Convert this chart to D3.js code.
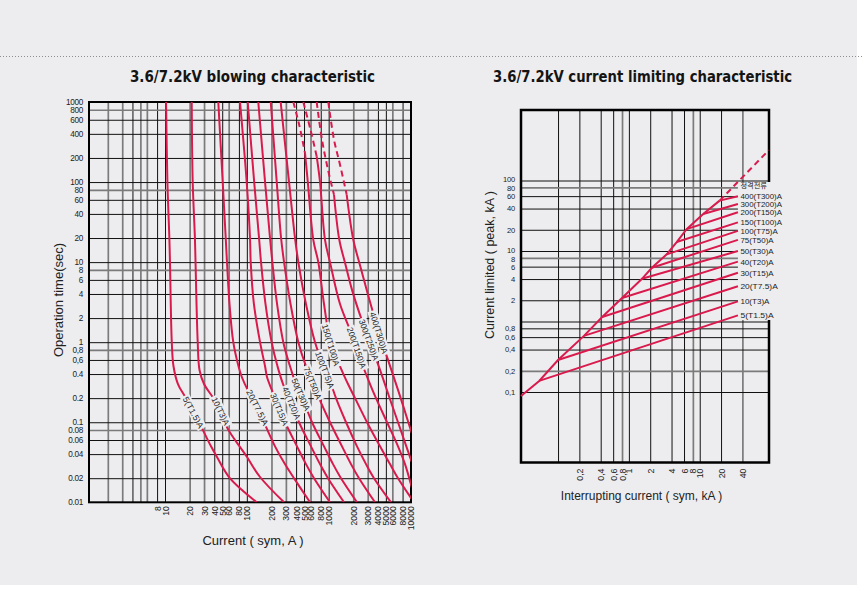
<!DOCTYPE html>
<html>
<head>
<meta charset="utf-8">
<script src="https://cdn.jsdelivr.net/npm/d3@7/dist/d3.min.js"></script>
<style>
html,body{margin:0;padding:0;background:#ffffff;}
svg{display:block;}
</style>
</head>
<body>
<svg id="chart" width="864" height="593"></svg>
<script>
// ================= DATA : blowing characteristic (current A, time s) =================
const blowNames = ["5(T1.5)A","10(T3)A","20(T7.5)A","30(T15)A","40(T20)A","50(T30)A",
                   "75(T50)A","100(T75)A","150(T100)A","200(T150)A","300(T250)A","400(T300)A"];
const blow5   = [[10.3,1000],[10.7,100],[11.3,20],[11.5,10],[12.1,1],[12.7,0.5],[14.4,0.3],[18,0.2],[22.5,0.13],[26,0.1],[36.5,0.05],[43,0.037],[62,0.02],[132,0.01]];
const blow10  = [[21.2,1000],[21.8,100],[23.2,20],[23.6,10],[25.1,1],[26.4,0.45],[30,0.3],[39,0.2],[49.7,0.13],[57,0.087],[100,0.037],[145,0.0207],[285,0.01]];
const blow20  = [[44.8,1000],[50.7,100],[55.2,20],[57.2,10],[61.4,3],[68.3,1],[79.1,0.5],[86.6,0.37],[103,0.25],[135,0.153],[162,0.1],[221,0.05],[292,0.03],[377,0.02],[592,0.01]];
const blow30  = [[82.5,1000],[99.6,100],[109.3,20],[111.5,10],[122,3],[145,1],[167,0.5],[176,0.37],[203,0.25],[251,0.145],[293,0.1],[410,0.05],[528,0.03],[662,0.02],[1038,0.01]];
const blow40  = [[102.5,1000],[123,100],[141,20],[149,10],[169,3],[201,1],[237,0.5],[277,0.3],[353,0.174],[434,0.1],[608,0.05],[784,0.03],[981,0.02],[1540,0.01]];
const blow50  = [[138,1000],[167,100],[192,20],[205,10],[234,3],[279,1],[337,0.5],[399,0.3],[459,0.2226],[626,0.1],[877,0.05],[1130,0.03],[1415,0.02],[2220,0.01]];
const blow75  = [[196,1000],[232,100],[262,20],[285,10],[342,3],[426,1],[528,0.5],[640,0.31],[762,0.2],[1038,0.1],[1455,0.05],[1875,0.03],[2349,0.02],[3684,0.01]];
const blow100 = [[259,1000],[328,100],[388,20],[426,10],[528,3],[681,1],[902,0.451],[1068,0.3],[1229,0.2],[1629,0.1],[2220,0.05],[2860,0.03],[3581,0.02],[5777,0.01]];
const blow150 = [[370,1000],[440,500],[514,230],[556,100],[649,19],[747,10],[877,3],[1068,0.925],[1376,0.5],[1723,0.3],[2099,0.2],[2941,0.1],[4241,0.05],[5618,0.03],[7037,0.02],[11036,0.01]];
const blow200 = [[490,1000],[600,450],[714,209],[784,100],[902,19],[1038,10],[1376,3],[2099,1],[2628,0.5],[3201,0.3],[3788,0.2],[5163,0.1],[7037,0.05],[8568,0.03],[10430,0.015]];
const blow300 = [[714,1000],[829,338],[981,142.6],[1162,69.4],[1349,19],[1584,9.8],[1929,4.5],[2415,2.19],[3112,1.07],[4241,0.451],[5943,0.164],[7811,0.0734],[10346,0.0319]];
const blow400 = [[990,1000],[1162,338],[1376,164.6],[1662,69.4],[2000,19],[2368,9.8],[3025,3.9],[4122,1.31],[5163,0.655],[7037,0.254],[10346,0.0734]];
const blowCurves = [blow5,blow10,blow20,blow30,blow40,blow50,blow75,blow100,blow150,blow200,blow300,blow400];
const blowDashAbove = [0,0,0,0,0,0,0,0,230,209,69.4,69.4];          // time (s) above which curve is dashed
const blowLabelT = [0.133,0.138,0.153,0.145,0.174,0.2226,0.31,0.451,0.925,0.849,1.07,1.31];

const blowGridX = [2,3,4,5,6,8,10,20,30,40,50,60,80,100,200,300,400,500,600,800,1000,2000,3000,4000,5000,6000,8000];
const blowGrayX = [2,3,5,6,20,30,60,200,300,600,2000,3000,6000];
const blowGridY = [0.02,0.04,0.06,0.08,0.1,0.2,0.4,0.6,0.8,1,2,4,6,8,10,20,40,60,80,100,200,400,600,800];
const blowGrayY = [800,80,8,0.8,0.08];
const blowTickX = [8,10,20,30,40,50,60,80,100,200,300,400,500,600,800,1000,2000,3000,4000,5000,6000,8000,10000];
const blowTickXLabels = ["8","10","20","30","40","50","60","80","100","200","300","400","500","600","800","1000","2000","3000","4000","5000","6000","8000","10000"];
const blowTickY = [1000,800,600,400,200,100,80,60,40,20,10,8,6,4,2,1,0.8,0.6,0.4,0.2,0.1,0.08,0.06,0.04,0.02,0.01];
const blowTickYLabels = ["1000","800","600","400","200","100","80","60","40","20","10","8","6","4","2","1","0,8","0,6","0.4","0.2","0.1","0.08","0.06","0.04","0.02","0.01"];

// ================= DATA : current limiting characteristic (kA sym, kA peak) =================
const limNames = ["5(T1.5)A","10(T3)A","20(T7.5)A","30(T15)A","40(T20)A","50(T30)A",
                  "75(T50)A","100(T75)A","150(T100)A","200(T150)A","300(T200)A","400(T300)A"];
const limEnvelope = [[0.03,0.088],[0.0542,0.1436],[0.1,0.284],[0.232,0.625],[0.42,1.156],[0.8,2.16],[1.53,4.03],[2.11,5.79],[3.42,8.97],[4.73,13.4],[6.53,20.4],[11.2,33.4],[19.1,51.8]];
const limEnvelopeDashed = [[19.1,51.8],[94,268]];
const limStartI    = [0.0542,0.1,0.232,0.42,0.8,1.53,2.11,3.42,4.73,6.53,11.2,19.1];
const limStartPeak = [0.1436,0.284,0.625,1.156,2.16,4.03,5.79,8.97,13.4,20.4,33.4,51.8];
const limEndI = 34.6;
const limEndPeak   = [1.22,1.93,3.16,4.91,7.06,10,14.4,19.3,25.5,35.4,46.5,59.8];
const limRatedLabel = "정격전류";
const limRatedLabelPeak = 85;

const limGridX = [0.1,0.2,0.4,0.6,0.8,1,2,4,6,8,10,20,40];
const limGrayX = [0.8,8,40];
const limGridY = [0.1,0.2,0.4,0.6,0.8,1,2,4,6,8,10,20,40,60,80,100];
const limGrayY = [80,8,0.2];
const limTickX = [0.2,0.4,0.6,0.8,1,2,4,6,8,10,20,40];
const limTickXLabels = ["0,2","0,4","0,6","0,8","1","2","4","6","8","10","20","40"];
const limTickY = [100,80,60,40,20,10,8,6,4,2,0.8,0.6,0.4,0.2,0.1];
const limTickYLabels = ["100","80","60","40","20","10","8","6","4","2","0,8","0,6","0,4","0,2","0,1"];

// ================= DRAWING =================
const svg = d3.select("#chart");
const BG = "#ededef", RED = "#d81a4d", INK = "#111", GRAY = "#7b7b7b";
const SANS = "'Liberation Sans', Arial, Helvetica, sans-serif";

svg.append("rect").attr("x",0).attr("y",0).attr("width",857).attr("height",585).attr("fill",BG);
svg.append("line").attr("x1",0).attr("x2",864).attr("y1",56.5).attr("y2",56.5)
   .attr("stroke","#8f8f8f").attr("stroke-width",1).attr("stroke-dasharray","1 2");

function title(txt, cx, len){
  svg.append("text").attr("x",cx).attr("y",82).attr("text-anchor","middle")
    .attr("font-family","'DejaVu Sans Condensed','DejaVu Sans',sans-serif")
    .attr("font-weight","bold").attr("font-size",15).attr("fill","#141414")
    .attr("textLength",len).attr("lengthAdjust","spacingAndGlyphs").text(txt);
}
title("3.6/7.2kV blowing characteristic", 252.5, 245);
title("3.6/7.2kV current limiting characteristic", 642.5, 299);

function styleGrid(g, grays){
  g.select(".domain").remove();
  g.selectAll(".tick line")
    .attr("stroke", d => grays.includes(d) ? GRAY : INK)
    .attr("stroke-width", d => grays.includes(d) ? 1.7 : 1);
}
function logInterp(pts, t){
  for(let i=0;i<pts.length-1;i++){
    const a=pts[i], b=pts[i+1];
    if(t<=a[1] && t>=b[1]){
      const f=(Math.log(t)-Math.log(a[1]))/(Math.log(b[1])-Math.log(a[1]));
      return Math.exp(Math.log(a[0])+f*(Math.log(b[0])-Math.log(a[0])));
    }
  }
  return pts[pts.length-1][0];
}

// ---------- LEFT CHART ----------
const L = {x0:89, x1:411, y0:102, y1:502.3};
const xL = d3.scaleLog().domain([1.178,10000]).range([89,410.5]);
const yL = d3.scaleLog().domain([0.01,1000]).range([L.y1,L.y0]);
const gL = svg.append("g");

gL.append("g").attr("transform",`translate(0,${L.y1})`)
  .call(d3.axisBottom(xL).tickValues(blowGridX).tickSize(-(L.y1-L.y0)).tickFormat(""))
  .call(g=>styleGrid(g, blowGrayX));
gL.append("g").attr("transform",`translate(${L.x0},0)`)
  .call(d3.axisLeft(yL).tickValues(blowGridY).tickSize(-(L.x1-L.x0)).tickFormat(""))
  .call(g=>styleGrid(g, blowGrayY));

// tick labels
gL.append("g").attr("transform",`translate(${L.x0},0)`)
  .call(d3.axisLeft(yL).tickValues(blowTickY).tickSize(0).tickPadding(6).tickFormat((d,i)=>blowTickYLabels[i]))
  .call(g=>{ g.select(".domain").remove();
    g.selectAll("text").attr("font-family",SANS).attr("font-size",8.2).attr("letter-spacing",-0.3).attr("fill","#222"); });
gL.append("g").attr("transform",`translate(0,${L.y1})`)
  .call(d3.axisBottom(xL).tickValues(blowTickX).tickSize(0).tickFormat((d,i)=>blowTickXLabels[i]))
  .call(g=>{ g.select(".domain").remove();
    g.selectAll("text").attr("font-family",SANS).attr("font-size",8.6).attr("fill","#222")
      .attr("transform","rotate(-90)").attr("text-anchor","end").attr("x",-4).attr("y",0).attr("dy","0.35em"); });

gL.append("rect").attr("x",L.x0).attr("y",L.y0).attr("width",L.x1-L.x0).attr("height",L.y1-L.y0)
  .attr("fill","none").attr("stroke","#000").attr("stroke-width",2);

svg.append("clipPath").attr("id","clipL").append("rect")
  .attr("x",L.x0).attr("y",L.y0).attr("width",L.x1-L.x0).attr("height",L.y1-L.y0);
const curvesL = gL.append("g").attr("clip-path","url(#clipL)");
const lineL = d3.line().x(d=>xL(d[0])).y(d=>yL(d[1])).curve(d3.curveCatmullRom.alpha(0.5));

blowCurves.forEach((pts,i)=>{
  const th = blowDashAbove[i];
  let solid = pts, dashed = null;
  if(th){
    const k = pts.findIndex(p=>p[1]<=th);
    dashed = pts.slice(0,k+1); solid = pts.slice(k);
  }
  curvesL.append("path").attr("d",lineL(solid)).attr("fill","none").attr("stroke",RED).attr("stroke-width",2);
  if(dashed) curvesL.append("path").attr("d",lineL(dashed)).attr("fill","none").attr("stroke",RED)
      .attr("stroke-width",2).attr("stroke-dasharray","6 4");
});

// curve labels
blowCurves.forEach((pts,i)=>{
  const t = blowLabelT[i];
  const px = xL(logInterp(pts,t)), py = yL(t);
  const x1 = xL(logInterp(pts,t*1.35)), y1 = yL(t*1.35);
  const x2 = xL(logInterp(pts,t/1.35)), y2 = yL(t/1.35);
  const ang = Math.atan2(y2-y1, x2-x1)*180/Math.PI;
  const len = blowNames[i].length*4.3;
  const g = gL.append("g").attr("transform",`translate(${px},${py}) rotate(${ang})`);
  g.append("rect").attr("x",-len/2-1.5).attr("y",-5).attr("width",len+3).attr("height",10).attr("fill",BG);
  g.append("text").attr("x",0).attr("y",3.2).attr("text-anchor","middle").attr("font-family",SANS)
    .attr("font-size",8.5).attr("fill","#222").attr("textLength",len).attr("lengthAdjust","spacingAndGlyphs")
    .text(blowNames[i]);
});

svg.append("text").attr("transform","translate(63,300) rotate(-90)").attr("text-anchor","middle")
  .attr("font-family",SANS).attr("font-size",13).attr("fill","#222").text("Operation time(sec)");
svg.append("text").attr("x",253).attr("y",545).attr("text-anchor","middle")
  .attr("font-family",SANS).attr("font-size",13).attr("fill","#222").text("Current ( sym, A )");

// ---------- RIGHT CHART ----------
const R = {x0:521, x1:769, y0:110, y1:462.5};
const xR = d3.scaleLog().domain([0.03,95]).range([R.x0,R.x1]);
const yR = d3.scaleLog().domain([0.01,1000]).range([R.y1,R.y0]);
const gR = svg.append("g");

gR.append("g").attr("transform",`translate(0,${R.y1})`)
  .call(d3.axisBottom(xR).tickValues(limGridX).tickSize(-(R.y1-R.y0)).tickFormat(""))
  .call(g=>styleGrid(g, limGrayX));
gR.append("g").attr("transform",`translate(${R.x0},0)`)
  .call(d3.axisLeft(yR).tickValues(limGridY).tickSize(-(R.x1-R.x0)).tickFormat(""))
  .call(g=>styleGrid(g, limGrayY));

// small nudges keep the tightly packed 100/80 and 10/8 labels apart
const nudge = {100:-1.3, 80:1.2, 10:-1.3, 8:1.2};
gR.append("g").attr("transform",`translate(${R.x0},0)`)
  .call(d3.axisLeft(yR).tickValues(limTickY).tickSize(0).tickPadding(6).tickFormat((d,i)=>limTickYLabels[i]))
  .call(g=>{ g.select(".domain").remove();
    g.selectAll("text").attr("font-family",SANS).attr("font-size",7.6).attr("letter-spacing",-0.2).attr("fill","#222")
      .attr("y", d => nudge[d] || 0); });
gR.append("g").attr("transform",`translate(0,${R.y1})`)
  .call(d3.axisBottom(xR).tickValues(limTickX).tickSize(0).tickFormat((d,i)=>limTickXLabels[i]))
  .call(g=>{ g.select(".domain").remove();
    g.selectAll("text").attr("font-family",SANS).attr("font-size",8.8).attr("fill","#222")
      .attr("transform","rotate(-90)").attr("text-anchor","end").attr("x",-6).attr("y",0).attr("dy","0.35em"); });

gR.append("rect").attr("x",R.x0).attr("y",R.y0).attr("width",R.x1-R.x0).attr("height",R.y1-R.y0)
  .attr("fill","none").attr("stroke","#000").attr("stroke-width",2.5);

// label area box (covers grid where labels sit)
const boxX = xR(limEndI);
gR.append("rect").attr("x",boxX).attr("y",yR(100)+1.5).attr("width",60).attr("height",yR(1)-yR(100)-3).attr("fill",BG);

const lineR = d3.line().x(d=>xR(d[0])).y(d=>yR(d[1]));
gR.append("path").attr("d",lineR(limEnvelope)).attr("fill","none").attr("stroke",RED).attr("stroke-width",2);
gR.append("path").attr("d",lineR(limEnvelopeDashed)).attr("fill","none").attr("stroke",RED)
  .attr("stroke-width",2).attr("stroke-dasharray","6 4");
limNames.forEach((n,i)=>{
  gR.append("path").attr("d",lineR([[limStartI[i],limStartPeak[i]],[limEndI,limEndPeak[i]]]))
    .attr("fill","none").attr("stroke",RED).attr("stroke-width",2);
  gR.append("text").attr("x",boxX+2.5).attr("y",yR(limEndPeak[i])+3).attr("font-family",SANS)
    .attr("font-size",8).attr("fill","#222").attr("textLength",n.length*4.15).attr("lengthAdjust","spacingAndGlyphs").text(n);
});
gR.append("text").attr("x",boxX+2.5).attr("y",yR(limRatedLabelPeak)+3)
  .attr("font-family","'Noto Sans CJK KR',sans-serif").attr("font-size",7.2).attr("fill","#222").text(limRatedLabel);

svg.append("text").attr("transform","translate(494,265) rotate(-90)").attr("text-anchor","middle")
  .attr("font-family",SANS).attr("font-size",12.5).attr("fill","#222").text("Current limited ( peak, kA )");
svg.append("text").attr("x",641.5).attr("y",500).attr("text-anchor","middle")
  .attr("font-family",SANS).attr("font-size",12).attr("fill","#222").text("Interrupting current ( sym, kA )");
</script>
</body>
</html>
